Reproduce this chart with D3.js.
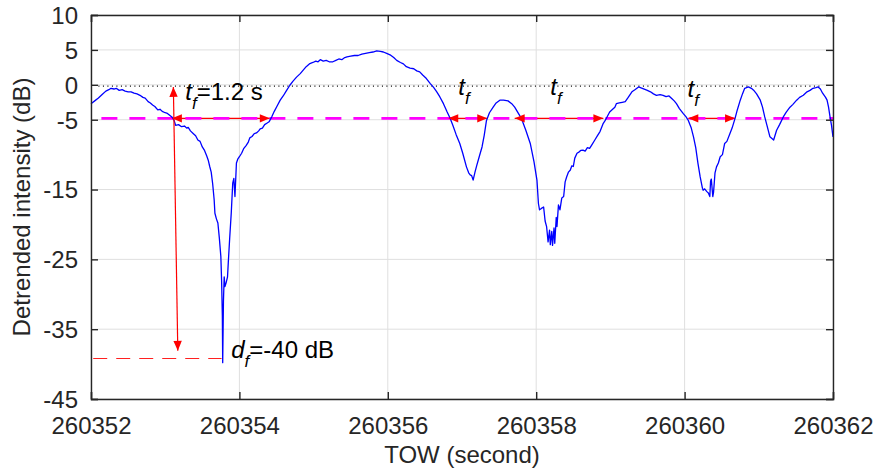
<!DOCTYPE html>
<html>
<head>
<meta charset="utf-8">
<script src="https://cdn.jsdelivr.net/npm/d3@7"></script>
<style>
  body { margin: 0; background: #fff; }
  text { font-family: "Liberation Sans", Arial, sans-serif; }
</style>
</head>
<body>
<div id="container"></div>
<script>
// detrended signal intensity
const tow = [
  260352.00, 260352.05, 260352.10, 260352.15, 260352.20, 260352.24, 260352.27, 260352.31, 260352.34, 260352.38,
  260352.42, 260352.46, 260352.50, 260352.54, 260352.58, 260352.62, 260352.66, 260352.70, 260352.73, 260352.77,
  260352.80, 260352.83, 260352.86, 260352.90, 260352.93, 260352.96, 260353.00, 260353.03, 260353.06, 260353.09,
  260353.12, 260353.14, 260353.18, 260353.22, 260353.26, 260353.29, 260353.31, 260353.34, 260353.38, 260353.41,
  260353.44, 260353.47, 260353.50, 260353.53, 260353.56, 260353.58, 260353.60, 260353.62, 260353.64, 260353.66,
  260353.67, 260353.69, 260353.71, 260353.73, 260353.75, 260353.76, 260353.77, 260353.775, 260353.785, 260353.795,
  260353.805, 260353.82, 260353.84, 260353.85, 260353.87, 260353.89, 260353.91, 260353.925, 260353.94, 260353.96,
  260353.98, 260354.00, 260354.03, 260354.06, 260354.09, 260354.12, 260354.14, 260354.17, 260354.20, 260354.23,
  260354.26, 260354.28, 260354.31, 260354.34, 260354.37, 260354.40, 260354.435, 260354.47, 260354.51, 260354.55,
  260354.59, 260354.63, 260354.68, 260354.72, 260354.77, 260354.82, 260354.86, 260354.90, 260354.95, 260354.99,
  260355.03, 260355.06, 260355.09, 260355.13, 260355.17, 260355.21, 260355.26, 260355.30, 260355.34, 260355.38,
  260355.42, 260355.45, 260355.50, 260355.55, 260355.60, 260355.65, 260355.70, 260355.75, 260355.80, 260355.85,
  260355.90, 260355.94, 260355.985, 260356.03, 260356.08, 260356.12, 260356.17, 260356.21, 260356.25, 260356.30,
  260356.35, 260356.39, 260356.43, 260356.47, 260356.52, 260356.57, 260356.62, 260356.66, 260356.70, 260356.75,
  260356.80, 260356.84, 260356.88, 260356.92, 260356.97, 260357.01, 260357.06, 260357.09, 260357.11, 260357.13,
  260357.15, 260357.175, 260357.20, 260357.235, 260357.27, 260357.30, 260357.33, 260357.37, 260357.42, 260357.46,
  260357.51, 260357.56, 260357.62, 260357.67, 260357.71, 260357.76, 260357.80, 260357.86, 260357.92, 260357.97,
  260358.01, 260358.03, 260358.045, 260358.07, 260358.10, 260358.12, 260358.14, 260358.16, 260358.18, 260358.19,
  260358.21, 260358.22, 260358.24, 260358.25, 260358.27, 260358.28, 260358.30, 260358.32, 260358.345, 260358.37,
  260358.39, 260358.41, 260358.435, 260358.46, 260358.48, 260358.50, 260358.52, 260358.55, 260358.58, 260358.60,
  260358.63, 260358.66, 260358.69, 260358.72, 260358.75, 260358.79, 260358.83, 260358.86, 260358.90, 260358.93,
  260358.96, 260358.99, 260359.03, 260359.06, 260359.08, 260359.12, 260359.16, 260359.20, 260359.24, 260359.29,
  260359.33, 260359.38, 260359.43, 260359.49, 260359.54, 260359.58, 260359.62, 260359.67, 260359.71, 260359.75,
  260359.79, 260359.83, 260359.86, 260359.89, 260359.93, 260359.98, 260360.02, 260360.05, 260360.09, 260360.12,
  260360.15, 260360.18, 260360.21, 260360.24, 260360.25, 260360.27, 260360.30, 260360.32, 260360.34, 260360.35,
  260360.36, 260360.38, 260360.39, 260360.41, 260360.43, 260360.455, 260360.48, 260360.51, 260360.54, 260360.57,
  260360.61, 260360.64, 260360.68, 260360.71, 260360.75, 260360.78, 260360.81, 260360.86, 260360.90, 260360.93,
  260360.97, 260361.02, 260361.05, 260361.08, 260361.11, 260361.15, 260361.20, 260361.24, 260361.28, 260361.33,
  260361.37, 260361.42, 260361.46, 260361.51, 260361.55, 260361.60, 260361.65, 260361.69, 260361.73, 260361.77,
  260361.80, 260361.83, 260361.86, 260361.90, 260361.92, 260361.94, 260361.96, 260361.98, 260362.00
];
const intensity = [
  -2.7, -2.3, -1.9, -1.4, -0.9, -0.7, -0.5, -0.6, -0.5, -0.8,
  -0.7, -0.9, -1.0, -1.0, -1.2, -1.3, -1.5, -1.8, -1.9, -2.4,
  -2.6, -2.9, -3.1, -3.6, -3.5, -3.8, -4.0, -4.1, -4.35, -4.6,
  -5.1, -5.8, -5.7, -6.0, -5.9, -6.2, -6.1, -6.6, -7.0, -7.3,
  -7.9, -8.1, -8.9, -9.4, -10.2, -10.8, -11.7, -12.5, -14.2, -16.5,
  -18.4, -19.2, -19.8, -22.0, -24.6, -28.0, -33.0, -39.8, -31.0, -27.5,
  -28.9, -28.4, -27.5, -25.5, -21.8, -18.4, -14.1, -13.4, -16.0, -11.2,
  -10.6, -10.3, -9.8, -9.1, -8.7, -8.2, -7.6, -7.4, -7.0, -6.9,
  -6.6, -6.3, -6.2, -5.7, -5.5, -5.3, -4.6, -3.8, -3.0, -2.2,
  -1.6, -0.9, -0.06, 0.5, 1.1, 1.6, 2.1, 2.6, 3.05, 3.2,
  3.4, 3.3, 3.6, 3.4, 3.5, 3.3, 3.3, 3.5, 3.7, 3.6,
  3.9, 4.0, 4.1, 4.2, 4.2, 4.4, 4.5, 4.6, 4.7, 4.85,
  4.8, 4.7, 4.5, 4.3, 3.9, 3.5, 3.2, 3.0, 2.6, 2.4,
  2.3, 2.0, 1.85, 1.4, 0.9, 0.2, -0.4, -1.0, -1.7, -2.7,
  -3.9, -4.8, -5.9, -7.1, -8.4, -9.8, -11.75, -12.6, -12.9, -13.0,
  -13.65, -12.5, -11.5, -10.2, -8.9, -7.2, -5.1, -4.0, -3.2, -2.6,
  -2.2, -2.2, -2.3, -2.7, -3.2, -4.1, -4.8, -6.5, -8.4, -11.0,
  -13.65, -17.0, -17.9, -17.7, -17.5, -19.5, -20.3, -22.5, -20.8, -22.9,
  -21.0, -23.0, -20.5, -22.7, -19.0, -20.3, -17.2, -17.9, -16.2, -16.0,
  -13.9, -13.2, -12.5, -12.2, -11.6, -11.7, -10.5, -9.8, -9.6, -9.4,
  -9.35, -9.5, -9.0, -9.1, -8.6, -7.9, -7.2, -6.7, -5.6, -5.1,
  -4.5, -3.9, -3.5, -3.2, -2.7, -2.6, -2.5, -2.4, -1.8, -1.0,
  -0.7, -0.3, -0.5, -0.77, -1.0, -1.3, -1.5, -1.4, -1.5, -1.7,
  -1.6, -2.0, -2.3, -2.7, -3.4, -4.1, -4.6, -5.1, -6.2, -7.45,
  -9.0, -11.25, -13.2, -14.8, -15.1, -14.9, -15.3, -15.5, -16.0, -13.8,
  -13.5, -16.0, -15.4, -12.6, -11.75, -11.2, -10.3, -10.0, -8.4, -8.1,
  -7.0, -6.2, -4.8, -3.6, -2.2, -1.3, -0.5, -0.3, -0.5, -0.77,
  -1.3, -2.2, -3.2, -4.6, -5.8, -7.45, -7.9, -6.5, -5.7, -4.6,
  -3.9, -3.2, -2.8, -2.2, -1.8, -1.5, -1.0, -0.8, -0.5, -0.4,
  -0.3, -0.6, -1.2, -1.8, -2.2, -3.2, -4.6, -5.8, -7.45
];

const xTicks = [260352, 260354, 260356, 260358, 260360, 260362];
const yTicks = [10, 5, 0, -5, -15, -25, -35, -45];

// reference levels
const peakLevel = -0.2;
const peakSpan = [260352.1, 260361.86];
const thresholdLevel = -4.8;
const thresholdSpan = [260352.14, 260362];
const depthLevel = -39.2;
const depthSpan = [260352.03, 260353.76];

// fade durations (t_f arrows)
const fadeStart = [260353.09, 260356.815, 260357.71, 260360.05];
const fadeEnd = [260354.41, 260357.34, 260358.905, 260360.68];
// fade depth arrow (d_f)
const depthArrowX = [260353.11, 260353.17];
const depthArrowY = [-0.3, -38.1];

// labels
const tfLabels = [
  { x: 260353.27, y: -2.2, text: "=1.2 s" },
  { x: 260356.95, y: -1.5, text: "" },
  { x: 260358.19, y: -1.5, text: "" },
  { x: 260360.04, y: -1.7, text: "" }
];
const dfLabel = { x: 260353.89, y: -39.1, text: "=-40 dB" };

const width = 878, height = 472;
const margin = { top: 15, right: 45, bottom: 73, left: 91 };

const svg = d3.select("#container").append("svg")
  .attr("width", width).attr("height", height);

const x = d3.scaleLinear().domain([260352, 260362]).range([margin.left, width - margin.right]);
const y = d3.scaleLinear().domain([-45, 10]).range([height - margin.bottom, margin.top]);

const axisColor = "#262626";

// grid
svg.append("g").selectAll("line").data(xTicks).enter().append("line")
  .attr("x1", d => x(d)).attr("x2", d => x(d))
  .attr("y1", y(10)).attr("y2", y(-45))
  .attr("stroke", "#dfdfdf").attr("stroke-width", 1);
svg.append("g").selectAll("line").data(yTicks).enter().append("line")
  .attr("x1", x(260352)).attr("x2", x(260362))
  .attr("y1", d => y(d)).attr("y2", d => y(d))
  .attr("stroke", "#dfdfdf").attr("stroke-width", 1);

// reference lines
svg.append("line")
  .attr("x1", x(peakSpan[0])).attr("x2", x(peakSpan[1]))
  .attr("y1", y(peakLevel)).attr("y2", y(peakLevel))
  .attr("stroke", "#000").attr("stroke-width", 1.2)
  .attr("stroke-dasharray", "1,3.5");

svg.append("line")
  .attr("x1", x(depthSpan[0])).attr("x2", x(depthSpan[1]))
  .attr("y1", y(depthLevel)).attr("y2", y(depthLevel))
  .attr("stroke", "#ff2020").attr("stroke-width", 1)
  .attr("stroke-dasharray", "14,9");

// red arrow shafts under the threshold line
const red = "#ff0000";
svg.append("g").selectAll("line").data(fadeStart).enter().append("line")
  .attr("x1", d => x(d)).attr("x2", (d, i) => x(fadeEnd[i]))
  .attr("y1", y(thresholdLevel)).attr("y2", y(thresholdLevel))
  .attr("stroke", red).attr("stroke-width", 1.2);

svg.append("line")
  .attr("x1", x(thresholdSpan[0])).attr("x2", x(thresholdSpan[1]))
  .attr("y1", y(thresholdLevel)).attr("y2", y(thresholdLevel))
  .attr("stroke", "#ff00ff").attr("stroke-width", 2.6)
  .attr("stroke-dasharray", "16,12");

// signal
const line = d3.line().x(d => x(d[0])).y(d => y(d[1]));
svg.append("path")
  .datum(tow.map((t, i) => [t, intensity[i]]))
  .attr("d", line)
  .attr("fill", "none")
  .attr("stroke", "#0000ff")
  .attr("stroke-width", 1.3)
  .attr("stroke-linejoin", "round");

// arrowheads
const arrowHead = (x1, y1, x2, y2) => {
  const a = Math.atan2(y2 - y1, x2 - x1);
  const len = 10, hw = 4.2;
  const bx = x2 - len * Math.cos(a), by = y2 - len * Math.sin(a);
  const px = -Math.sin(a) * hw, py = Math.cos(a) * hw;
  return `M${x2},${y2}L${bx + px},${by + py}L${bx - px},${by - py}Z`;
};
const heads = svg.append("g").attr("fill", red);
fadeStart.forEach((s, i) => {
  const yy = y(thresholdLevel);
  heads.append("path").attr("d", arrowHead(x(fadeEnd[i]), yy, x(s), yy));
  heads.append("path").attr("d", arrowHead(x(s), yy, x(fadeEnd[i]), yy));
});
const vx1 = x(depthArrowX[0]), vy1 = y(depthArrowY[0]);
const vx2 = x(depthArrowX[1]), vy2 = y(depthArrowY[1]);
svg.append("line")
  .attr("x1", vx1).attr("y1", vy1).attr("x2", vx2).attr("y2", vy2)
  .attr("stroke", red).attr("stroke-width", 1.2);
heads.raise();
heads.append("path").attr("d", arrowHead(vx2, vy2, vx1, vy1));
heads.append("path").attr("d", arrowHead(vx1, vy1, vx2, vy2));

// axes (plain hyphen for negatives, like the original)
const fmt = d => String(d);
const xAxis = svg.append("g")
  .attr("transform", `translate(0,${y(-45)})`)
  .call(d3.axisBottom(x).tickValues(xTicks).tickFormat(fmt).tickSize(-7).tickPadding(18));
const yAxis = svg.append("g")
  .attr("transform", `translate(${x(260352)},0)`)
  .call(d3.axisLeft(y).tickValues(yTicks).tickFormat(fmt).tickSize(-7).tickPadding(13));
svg.append("g")
  .attr("transform", `translate(0,${y(10)})`)
  .call(d3.axisTop(x).tickValues(xTicks).tickFormat("").tickSize(-7));
svg.append("g")
  .attr("transform", `translate(${x(260362)},0)`)
  .call(d3.axisRight(y).tickValues(yTicks).tickFormat("").tickSize(-7));

svg.selectAll(".domain").attr("stroke", axisColor).attr("stroke-width", 1.4);
svg.selectAll(".tick line").attr("stroke", axisColor).attr("stroke-width", 1.4);
svg.selectAll(".tick text")
  .attr("fill", axisColor)
  .style("font-size", "24px")
  .style("font-family", "'Liberation Sans', Arial, sans-serif");
xAxis.selectAll(".tick text").attr("dy", "0.71em");
yAxis.selectAll(".tick text").attr("dy", "0.35em");

// axis titles
svg.append("text")
  .attr("x", (x(260352) + x(260362)) / 2).attr("y", 463)
  .attr("text-anchor", "middle").attr("fill", axisColor)
  .style("font-size", "24px")
  .text("TOW (second)");
svg.append("text")
  .attr("transform", `translate(30,${(y(10) + y(-45)) / 2}) rotate(-90)`)
  .attr("text-anchor", "middle").attr("fill", axisColor)
  .style("font-size", "24px")
  .text("Detrended intensity (dB)");

// annotations
const subLabel = (lab, main) => {
  const t = svg.append("text")
    .attr("x", x(lab.x)).attr("y", y(lab.y))
    .attr("fill", "#000").style("font-size", "24px");
  t.append("tspan").style("font-style", "italic").text(main);
  t.append("tspan").style("font-style", "italic").style("font-size", "17px")
    .attr("dy", 9).text("f");
  if (lab.text) t.append("tspan").attr("dy", -9).text(lab.text);
};
tfLabels.forEach(l => subLabel(l, "t"));
subLabel(dfLabel, "d");
</script>
</body>
</html>
